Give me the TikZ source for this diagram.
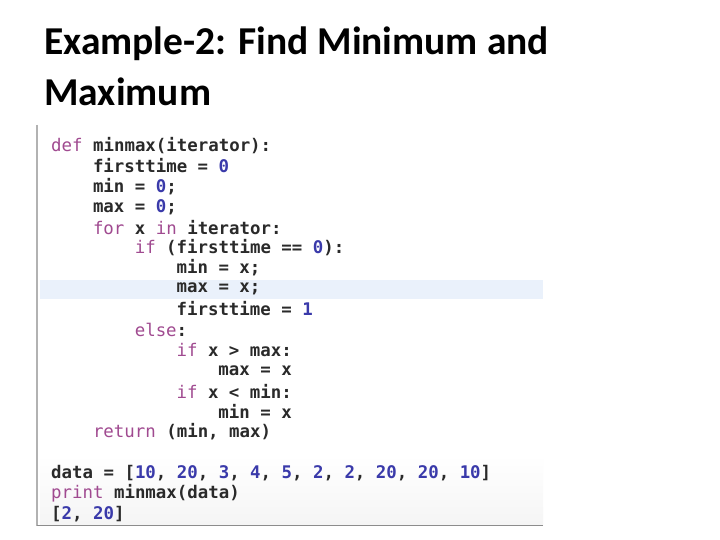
\documentclass[tikz,border=0pt]{standalone}
\usepackage{fontspec}
\setmainfont{Carlito}
\setmonofont{DejaVu Sans Mono}
\definecolor{kwc}{HTML}{A04A90}
\definecolor{nmc}{HTML}{3A3AAA}
\definecolor{txc}{HTML}{2A2A2A}
\definecolor{hlc}{HTML}{EAF1FB}
\newcommand{\kw}[1]{\textcolor{kwc}{\mdseries #1}}
\newcommand{\nm}[1]{\textcolor{nmc}{#1}}
\tikzset{codeline/.style={anchor=west,inner sep=0pt,font=\ttfamily\bfseries\fontsize{17.4}{20}\selectfont,text=txc},
titleline/.style={anchor=west,inner sep=0pt,font=\bfseries\fontsize{39.5}{44}\selectfont,text=black}}
\begin{document}
\begin{tikzpicture}[x=1pt,y=-1pt]
\useasboundingbox (0,0) rectangle (720,540);
\fill[white] (0,0) rectangle (720,540);
\node[titleline] (t1) at (44,44) {Example-2: Find Minimum and};
\node[titleline] (t2) at (44,92) {Maximum};
\fill[hlc] (40,280) rectangle (543,299);
\shade[top color=white,bottom color=black!4] (40,455) rectangle (543,525);
\draw[black!30,line width=1.5pt] (37,125) -- (37,526);
\draw[black!45,line width=1pt] (37,525.5) -- (543,525.5);
\def\cw{10.45}
\node[codeline] (l1) at (51,146) {\kw{def} minmax(iterator):};
\node[codeline] (l2) at (51+4*\cw,166) {firsttime = \nm{0}};
\node[codeline] (l3) at (51+4*\cw,187) {min = \nm{0};};
\node[codeline] (l4) at (51+4*\cw,207) {max = \nm{0};};
\node[codeline] (l5) at (51+4*\cw,228) {\kw{for} x \kw{in} iterator:};
\node[codeline] (l6) at (51+8*\cw,248) {\kw{if} (firsttime == \nm{0}):};
\node[codeline] (l7) at (51+12*\cw,268) {min = x;};
\node[codeline] (l8) at (51+12*\cw,289) {max = x;};
\node[codeline] (l9) at (51+12*\cw,309) {firsttime = \nm{1}};
\node[codeline] (l10) at (51+8*\cw,330) {\kw{else}:};
\node[codeline] (l11) at (51+12*\cw,350) {\kw{if} x > max:};
\node[codeline] (l12) at (51+16*\cw,371) {max = x};
\node[codeline] (l13) at (51+12*\cw,391) {\kw{if} x < min:};
\node[codeline] (l14) at (51+16*\cw,411) {min = x};
\node[codeline] (l15) at (51+4*\cw,432) {\kw{return} (min, max)};
\node[codeline] (l16) at (51,473) {data = [\nm{10}, \nm{20}, \nm{3}, \nm{4}, \nm{5}, \nm{2}, \nm{2}, \nm{20}, \nm{20}, \nm{10}]};
\node[codeline] (l17) at (51,493) {\kw{print} minmax(data)};
\node[codeline] (l18) at (51,514) {[\nm{2}, \nm{20}]};
\end{tikzpicture}
\end{document}
